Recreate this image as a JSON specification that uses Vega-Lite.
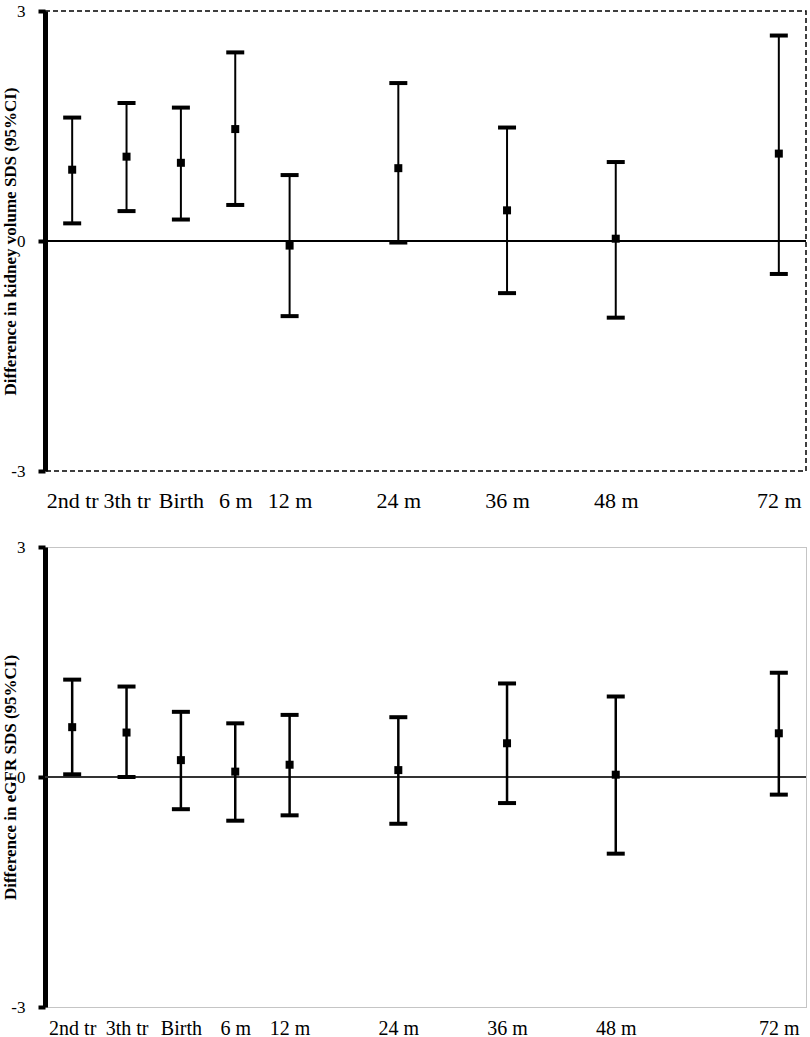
{
  "$schema": "https://vega.github.io/schema/vega-lite/v6.json",
  "background": "white",
  "padding": {"left": 0, "top": 1, "right": 0, "bottom": 0},
  "config": {
    "font": "Liberation Serif",
    "view": {"stroke": null},
    "axis": {"grid": false}
  },
  "datasets": {
    "kidney": [
      {"pos": 1, "label": "2nd tr", "est": 0.93, "lo": 0.23, "hi": 1.61},
      {"pos": 2, "label": "3th tr", "est": 1.10, "lo": 0.39, "hi": 1.80},
      {"pos": 3, "label": "Birth", "est": 1.02, "lo": 0.28, "hi": 1.74},
      {"pos": 4, "label": "6 m", "est": 1.46, "lo": 0.47, "hi": 2.46},
      {"pos": 5, "label": "12 m", "est": -0.06, "lo": -0.98, "hi": 0.86},
      {"pos": 7, "label": "24 m", "est": 0.95, "lo": -0.02, "hi": 2.06},
      {"pos": 9, "label": "36 m", "est": 0.40, "lo": -0.68, "hi": 1.48},
      {"pos": 11, "label": "48 m", "est": 0.03, "lo": -1.00, "hi": 1.03},
      {"pos": 14, "label": "72 m", "est": 1.14, "lo": -0.43, "hi": 2.68}
    ],
    "egfr": [
      {"pos": 1, "label": "2nd tr", "est": 0.65, "lo": 0.035, "hi": 1.27},
      {"pos": 2, "label": "3th tr", "est": 0.58, "lo": 0.0, "hi": 1.18},
      {"pos": 3, "label": "Birth", "est": 0.22, "lo": -0.42, "hi": 0.85},
      {"pos": 4, "label": "6 m", "est": 0.07, "lo": -0.57, "hi": 0.70},
      {"pos": 5, "label": "12 m", "est": 0.16, "lo": -0.50, "hi": 0.81},
      {"pos": 7, "label": "24 m", "est": 0.09, "lo": -0.61, "hi": 0.78},
      {"pos": 9, "label": "36 m", "est": 0.44, "lo": -0.34, "hi": 1.22},
      {"pos": 11, "label": "48 m", "est": 0.03, "lo": -1.00, "hi": 1.05},
      {"pos": 14, "label": "72 m", "est": 0.57, "lo": -0.23, "hi": 1.36}
    ]
  },
  "spacing": 76,
  "bounds": "flush",
  "vconcat": [
    {
      "width": 761,
      "height": 460,
      "data": {"name": "kidney"},
      "view": {"stroke": "black", "strokeDash": [5, 3], "strokeWidth": 1.5},
      "encoding": {
        "x": {"field": "pos", "type": "quantitative", "scale": {"domain": [0.5, 14.5], "nice": false, "zero": false},
          "axis": {"values": [1, 2, 3, 4, 5, 7, 9, 11, 14], "title": null, "domain": false, "ticks": false, "labelColor": "black", "labelOverlap": false, "labelFlush": false, "labelFontSize": 22, "labelPadding": 19,
            "labelExpr": "datum.value == 1 ? '2nd tr' : datum.value == 2 ? '3th tr' : datum.value == 3 ? 'Birth' : datum.value == 4 ? '6 m' : datum.value == 5 ? '12 m' : datum.value == 7 ? '24 m' : datum.value == 9 ? '36 m' : datum.value == 11 ? '48 m' : '72 m'"}},
        "y": {"field": "est", "type": "quantitative", "scale": {"domain": [-3, 3], "nice": false, "zero": false},
          "axis": {"values": [-3, 0, 3], "title": "Difference in kidney volume SDS  (95%CI)", "labelExpr": "toString(datum.value)",
            "titleFontSize": 17, "titleFontWeight": "bold", "titleColor": "black", "titleAngle": 270, "titleBaseline": "bottom", "titleAlign": "center", "titleX": -26, "titleY": 230,
            "domainColor": "black", "domainWidth": 5, "ticks": true, "tickColor": "black", "tickWidth": 4, "tickSize": 7,
            "labelFontSize": 17, "labelColor": "black", "labelPadding": 13}}
      },
      "layer": [
        {
          "mark": {"type": "rule", "color": "black", "strokeWidth": 2},
          "encoding": {"y2": {"field": "hi"}, "y": {"field": "lo", "type": "quantitative"}}
        },
        {
          "mark": {"type": "tick", "orient": "horizontal", "size": 18, "thickness": 4, "color": "black", "opacity": 1},
          "encoding": {"y": {"field": "lo", "type": "quantitative"}}
        },
        {
          "mark": {"type": "tick", "orient": "horizontal", "size": 18, "thickness": 4, "color": "black", "opacity": 1},
          "encoding": {"y": {"field": "hi", "type": "quantitative"}}
        },
        {
          "mark": {"type": "square", "size": 64, "color": "black", "opacity": 1}
        },
        {
          "mark": {"type": "rule", "color": "black", "strokeWidth": 1.5},
          "encoding": {"x": {"datum": 0.5}, "x2": {"datum": 14.5}, "y": {"datum": 0, "type": "quantitative"}}
        }
      ]
    },
    {
      "width": 761,
      "height": 460,
      "data": {"name": "egfr"},
      "view": {"stroke": "#8a8a8a", "strokeDash": [1, 1], "strokeWidth": 1},
      "encoding": {
        "x": {"field": "pos", "type": "quantitative", "scale": {"domain": [0.5, 14.5], "nice": false, "zero": false},
          "axis": {"values": [1, 2, 3, 4, 5, 7, 9, 11, 14], "title": null, "domain": false, "ticks": false, "labelColor": "black", "labelOverlap": false, "labelFlush": false, "labelFontSize": 20, "labelPadding": 11,
            "labelExpr": "datum.value == 1 ? '2nd tr' : datum.value == 2 ? '3th tr' : datum.value == 3 ? 'Birth' : datum.value == 4 ? '6 m' : datum.value == 5 ? '12 m' : datum.value == 7 ? '24 m' : datum.value == 9 ? '36 m' : datum.value == 11 ? '48 m' : '72 m'"}},
        "y": {"field": "est", "type": "quantitative", "scale": {"domain": [-3, 3], "nice": false, "zero": false},
          "axis": {"values": [-3, 0, 3], "title": "Difference in eGFR  SDS (95%CI)", "labelExpr": "toString(datum.value)",
            "titleFontSize": 17, "titleFontWeight": "bold", "titleColor": "black", "titleAngle": 270, "titleBaseline": "bottom", "titleAlign": "center", "titleX": -26, "titleY": 230,
            "domainColor": "black", "domainWidth": 5, "ticks": true, "tickColor": "black", "tickWidth": 4, "tickSize": 7,
            "labelFontSize": 17, "labelColor": "black", "labelPadding": 13}}
      },
      "layer": [
        {
          "mark": {"type": "rule", "color": "#333333", "strokeWidth": 1},
          "encoding": {"x": {"datum": 0.5}, "x2": {"datum": 14.5}, "y": {"datum": 0, "type": "quantitative"}}
        },
        {
          "mark": {"type": "rule", "color": "black", "strokeWidth": 2.5},
          "encoding": {"y2": {"field": "hi"}, "y": {"field": "lo", "type": "quantitative"}}
        },
        {
          "mark": {"type": "tick", "orient": "horizontal", "size": 18, "thickness": 4, "color": "black", "opacity": 1},
          "encoding": {"y": {"field": "lo", "type": "quantitative"}}
        },
        {
          "mark": {"type": "tick", "orient": "horizontal", "size": 18, "thickness": 4, "color": "black", "opacity": 1},
          "encoding": {"y": {"field": "hi", "type": "quantitative"}}
        },
        {
          "mark": {"type": "square", "size": 64, "color": "black", "opacity": 1}
        }
      ]
    }
  ]
}
